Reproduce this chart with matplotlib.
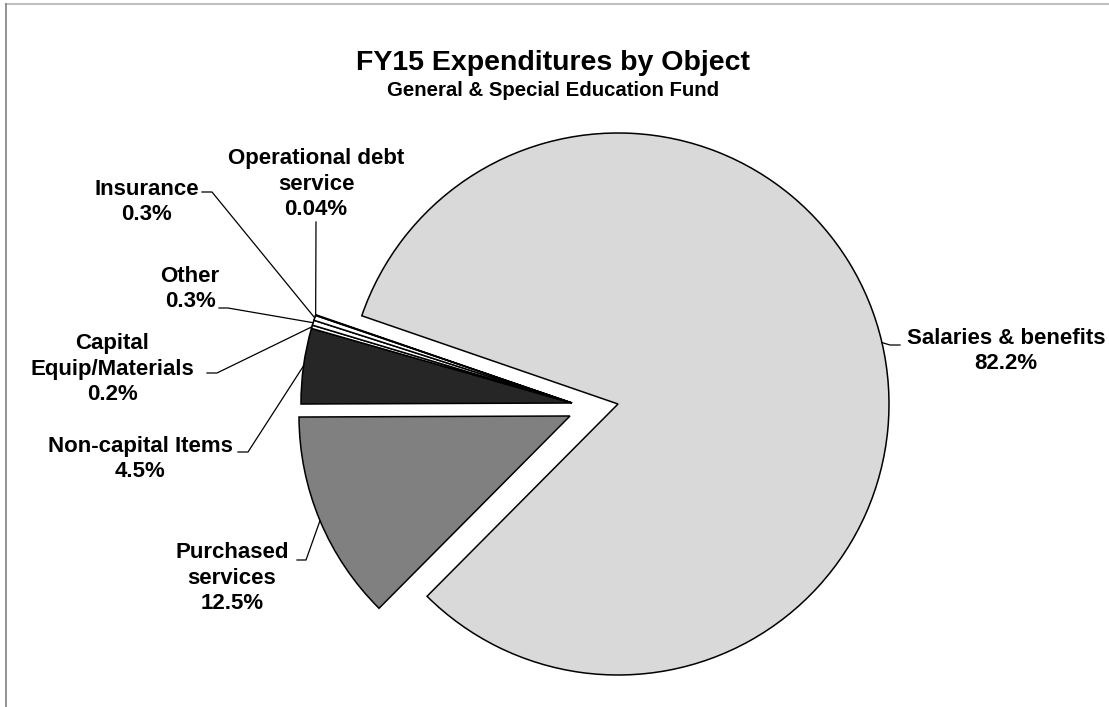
import numpy as np
import matplotlib
matplotlib.use("Agg")
import matplotlib.pyplot as plt
from matplotlib.lines import Line2D

# ---- data ----
categories = ["Salaries & benefits", "Purchased services", "Non-capital Items",
              "Capital Equip/Materials", "Other", "Insurance", "Operational debt service"]
label_texts = ["Salaries & benefits\n82.2%", "Purchased\nservices\n12.5%", "Non-capital Items\n4.5%",
               "Capital\nEquip/Materials\n0.2%", "Other\n0.3%", "Insurance\n0.3%",
               "Operational debt\nservice\n0.04%"]
values = [82.2, 12.5, 4.5, 0.2, 0.3, 0.3, 0.04]
colors = ["#D9D9D9", "#808080", "#262626", "#FFFFFF", "#FFFFFF", "#FFFFFF", "#000000"]
explode_px = [0, 48, 46, 46, 46, 46, 46]

W, H = 1109, 707
FONT = "Liberation Sans"

fig = plt.figure(figsize=(W / 100, H / 100), dpi=100)
ax = fig.add_axes([0, 0, 1, 1])

def Y(y):
    return H - y

R = 271
center = (618, Y(404))
wedges, _ = ax.pie(values, colors=colors, startangle=161, counterclock=False,
                   radius=R, center=center, frame=True,
                   explode=explode_px,
                   wedgeprops=dict(edgecolor="black", linewidth=1.1))
# Excel-style exploded apex positions (layout)
apex = [(618, 404), (570, 416), (572, 403), (572, 403), (572, 403), (572, 403), (572, 403)]
for w, a in zip(wedges, apex):
    w.set_center((a[0], Y(a[1])))

ax.set_xlim(0, W)
ax.set_ylim(0, H)
ax.set_aspect("equal")
ax.axis("off")

# label layout (image pixel coords): text center, leader path points (from text side)
layout = [
    dict(xy=(1006, 351), path=[(900, 345), (890, 345)]),
    dict(xy=(232, 578), path=[(297, 560), (306, 560)]),
    dict(xy=(140, 459), path=[(238, 452), (248, 452)]),
    dict(xy=(112, 369), path=[(207, 373), (217, 373)]),
    dict(xy=(190, 289), path=[(219, 308), (228, 308)]),
    dict(xy=(147, 202), path=[(202, 192), (212, 192)]),
    dict(xy=(316, 184), path=[(316, 222)]),
]

for w, txt, lay in zip(wedges, label_texts, layout):
    mid = np.deg2rad((w.theta1 + w.theta2) / 2)
    px = w.center[0] + w.r * np.cos(mid)
    py = w.center[1] + w.r * np.sin(mid)
    xs = [p[0] for p in lay["path"]] + [px]
    ys = [Y(p[1]) for p in lay["path"]] + [py]
    ax.add_line(Line2D(xs, ys, color="black", linewidth=0.9, zorder=5))
    ax.text(lay["xy"][0], Y(lay["xy"][1]), txt, ha="center", va="center",
            fontsize=16, fontweight="bold", family=FONT, linespacing=1.28)

fig.text(553 / W, 1 - 63 / H, "FY15 Expenditures by Object", ha="center", va="center",
         fontsize=20.5, fontweight="bold", family=FONT)
fig.text(553 / W, 1 - 90 / H, "General & Special Education Fund", ha="center", va="center",
         fontsize=14.7, fontweight="bold", family=FONT)

# outer frame remnants
fig.add_artist(Line2D([6 / W, 1], [1 - 4 / H, 1 - 4 / H], transform=fig.transFigure,
                      color="#BFBFBF", linewidth=1.5))
fig.add_artist(Line2D([6 / W, 6 / W], [0, 1 - 4 / H], transform=fig.transFigure,
                      color="#808080", linewidth=1.2))

fig.savefig("out.png", dpi=100)
